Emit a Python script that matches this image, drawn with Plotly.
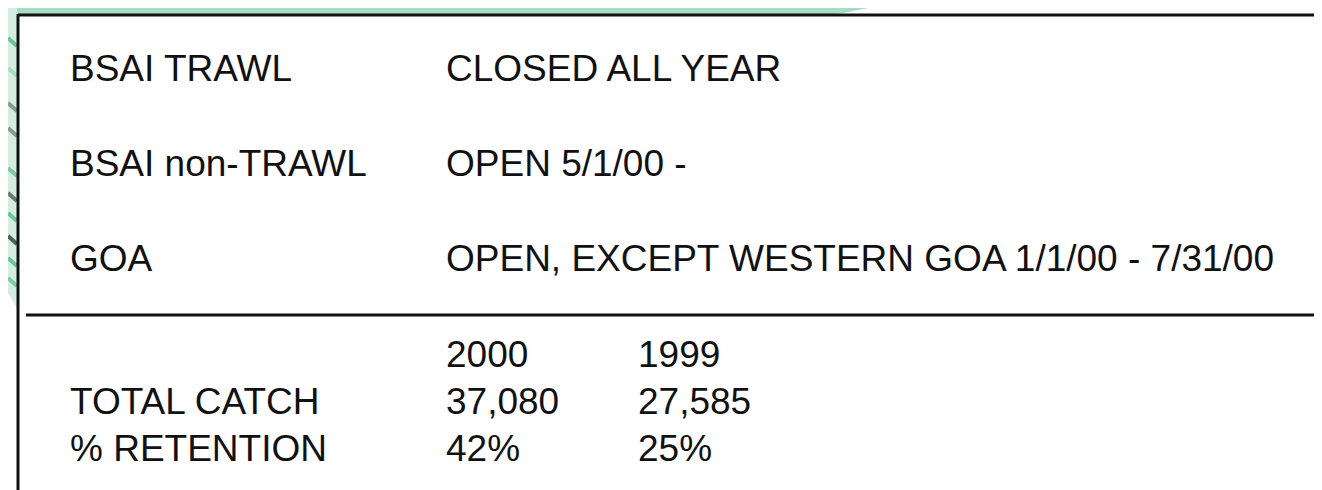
import plotly.graph_objects as go

# ---- data ----
fishery_areas = ["BSAI TRAWL", "BSAI non-TRAWL", "GOA"]
fishery_status = ["CLOSED ALL YEAR", "OPEN 5/1/00 -", "OPEN, EXCEPT WESTERN GOA 1/1/00 - 7/31/00"]
years = ["2000", "1999"]
metrics = ["TOTAL CATCH", "% RETENTION"]
values_2000 = ["37,080", "42%"]
values_1999 = ["27,585", "25%"]

W, H = 1322, 490
FONT = dict(family="Liberation Sans, Arial, sans-serif", size=37, color="#111111")

fig = go.Figure()

# layout positions
col_label_x = 60
col_status_x = 436
col_year_x = [436, 628]
top_rows_y = [60, 155, 250]
header_y = 346
metric_rows_y = [393, 440]

ann = []
for name, status, y in zip(fishery_areas, fishery_status, top_rows_y):
    ann.append(dict(x=col_label_x, y=y, text=name))
    ann.append(dict(x=col_status_x, y=y, text=status))
for yr, x in zip(years, col_year_x):
    ann.append(dict(x=x, y=header_y, text=yr))
for m, v0, v1, y in zip(metrics, values_2000, values_1999, metric_rows_y):
    ann.append(dict(x=col_label_x, y=y, text=m))
    ann.append(dict(x=col_year_x[0], y=y, text=v0))
    ann.append(dict(x=col_year_x[1], y=y, text=v1))
for a in ann:
    a.update(xref="x", yref="y", xanchor="left", yanchor="middle", showarrow=False, font=FONT)

shapes = []
# decorative green band at the top
shapes.append(dict(type="path", path="M 0 0 L 860 0 L 830 6 L 0 6 Z",
                   fillcolor="#a6dcc3", line=dict(width=0), layer="below"))
# decorative green strip at the left
shapes.append(dict(type="path", path="M 0 0 L 9 0 L 9 300 L 0 285 Z", fillcolor="#d3eee1",
                   line=dict(width=0), layer="below"))
for y0, c in [(30, "#6cc497"), (60, "#a9dcc4"), (95, "#8a9a92"), (120, "#8a9a92"), (160, "#7fcaa4"),
              (185, "#6a7a72"), (205, "#6cc497"), (228, "#555f5a"), (250, "#6cc497"), (270, "#7fcaa4")]:
    shapes.append(dict(type="line", x0=0, y0=y0, x1=9, y1=y0 + 8, line=dict(color=c, width=4),
                       layer="below"))
# box borders
shapes.append(dict(type="line", x0=10, x1=W, y0=7, y1=7, line=dict(color="#111111", width=3)))
shapes.append(dict(type="line", x0=10, x1=10, y0=6, y1=H, line=dict(color="#111111", width=3)))
shapes.append(dict(type="line", x0=18, x1=W, y0=307, y1=307, line=dict(color="#111111", width=3)))
shapes.append(dict(type="line", x0=10, x1=W, y0=489, y1=489, line=dict(color="#dddddd", width=2)))

fig.update_layout(
    width=W, height=H,
    margin=dict(l=0, r=0, t=0, b=0),
    paper_bgcolor="white", plot_bgcolor="white",
    xaxis=dict(range=[0, W], visible=False, fixedrange=True),
    yaxis=dict(range=[H, 0], visible=False, fixedrange=True),
    annotations=ann, shapes=shapes, showlegend=False,
)

fig.write_html("out.html")
